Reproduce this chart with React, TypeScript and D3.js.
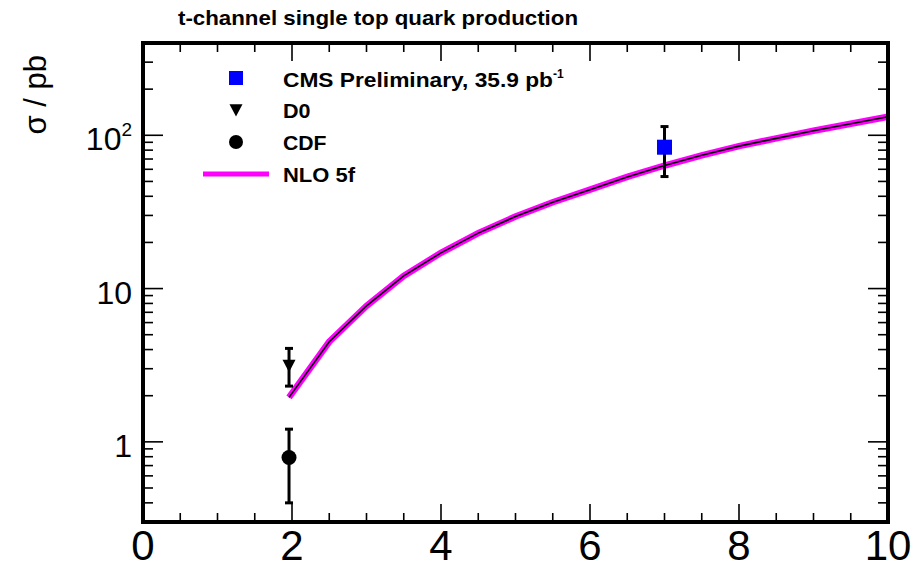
import React from 'react';
import * as d3 from 'd3';

// NLO 5f theory curve (sqrt(s) in TeV, sigma in pb)
const curveX = [1.96, 2.5, 3, 3.5, 4, 4.5, 5, 5.5, 6, 6.5, 7, 7.5, 8, 8.5, 9, 9.5, 10];
const curveY = [1.95, 4.5, 7.7, 12.1, 17.1, 23.0, 29.5, 36.6, 44.2, 53.5, 63.5, 74, 85, 95.5, 107, 119, 132];

// measurements
const pointNames = ['CMS', 'D0', 'CDF'];
const pointX = [7, 1.96, 1.96];
const pointY = [83.6, 3.14, 0.79];
const pointHi = [114, 4.07, 1.21];
const pointLo = [53.8, 2.31, 0.4];

const xTickValues = [0, 2, 4, 6, 8, 10];
const yTickValues = [1, 10, 100];

const legendLabels = ['CMS Preliminary, 35.9 pb', 'D0', 'CDF', 'NLO 5f'];
const legendWidths = [270, 27.5, 43.5, 72];

const W = 920, H = 565;
const L = 143, R = 888, T = 43, B = 522;
const FONT = 'Liberation Sans, Arial, Helvetica, sans-serif';

export default function App() {
  const x = d3.scaleLinear().domain([0, 10]).range([L, R]);
  const y = d3.scaleLog().domain([0.3, 400]).range([B, T]);

  const xMinor = d3.range(0, 10.001, 0.5);
  const yMinor: number[] = [];
  [0.1, 1, 10, 100].forEach((d) => {
    for (let k = 1; k <= 9; k++) {
      const v = d * k;
      if (v >= 0.3 && v <= 400) yMinor.push(v);
    }
  });

  const line = d3
    .line<number>()
    .x((_, i) => x(curveX[i]))
    .y((v) => y(v))
    .curve(d3.curveLinear);
  const path = line(curveY) || '';

  const tri = (cx: number, cy: number, s: number) =>
    `M${cx - s},${cy - s * 0.9}L${cx + s},${cy - s * 0.9}L${cx},${cy + s * 1.0}Z`;

  const legY = [78, 110, 142, 174];

  return (
    <svg width={W} height={H} style={{ position: 'absolute', left: 0, top: 0, background: '#fff' }} fontFamily={FONT}>
      <rect x={0} y={0} width={W} height={H} fill="#fff" />
      {/* title */}
      <text x={178} y={25} fontSize={21} fontWeight="bold" textLength={400} lengthAdjust="spacingAndGlyphs">
        t-channel single top quark production
      </text>
      {/* y axis title */}
      <text transform={`translate(46,55) rotate(-90)`} fontSize={31} textAnchor="end">
        σ / pb
      </text>

      {/* x ticks */}
      {xMinor.map((v) => {
        const major = Math.abs(v % 2) < 1e-6;
        const len = major ? 18 : 9;
        return (
          <g key={'xt' + v} stroke="#000" strokeWidth={1.6}>
            <line x1={x(v)} x2={x(v)} y1={B} y2={B - len} />
            <line x1={x(v)} x2={x(v)} y1={T} y2={T + len} />
          </g>
        );
      })}
      {/* y ticks */}
      {yMinor.map((v) => {
        const major = yTickValues.includes(v);
        const len = major ? 20 : 10;
        return (
          <g key={'yt' + v} stroke="#000" strokeWidth={1.6}>
            <line x1={L} x2={L + len} y1={y(v)} y2={y(v)} />
            <line x1={R} x2={R - len} y1={y(v)} y2={y(v)} />
          </g>
        );
      })}

      {/* x tick labels */}
      {xTickValues.map((v) => (
        <text key={'xl' + v} x={x(v)} y={560} fontSize={42} textAnchor="middle">
          {String(v)}
        </text>
      ))}
      {/* y tick labels */}
      {yTickValues.map((v) => (
        <text key={'yl' + v} x={132} y={y(v) + 15} fontSize={32} textAnchor="end">
          {v === 100 ? (
            <>
              10<tspan fontSize={19} dy={-14}>2</tspan>
            </>
          ) : (
            String(v)
          )}
        </text>
      ))}

      {/* theory curve */}
      <path d={path} fill="none" stroke="#ff00ff" strokeWidth={6.5} />
      <path d={path} fill="none" stroke="#000" strokeWidth={1.6} />

      {/* measurements: error bars */}
      {pointNames.map((n, i) => {
        const cx = x(pointX[i]);
        return (
          <g key={'eb' + n} stroke="#000" strokeWidth={3}>
            <line x1={cx} x2={cx} y1={y(pointHi[i])} y2={y(pointLo[i])} />
            <line x1={cx - 4} x2={cx + 4} y1={y(pointHi[i])} y2={y(pointHi[i])} />
            <line x1={cx - 4} x2={cx + 4} y1={y(pointLo[i])} y2={y(pointLo[i])} />
          </g>
        );
      })}
      {/* markers */}
      <rect x={x(pointX[0]) - 7.5} y={y(pointY[0]) - 7.5} width={15} height={15} fill="#0000ff" />
      <path d={tri(x(pointX[1]), y(pointY[1]), 6.5)} fill="#000" />
      <circle cx={x(pointX[2])} cy={y(pointY[2])} r={7.5} fill="#000" />

      {/* legend */}
      <rect x={229} y={legY[0] - 7} width={14} height={14} fill="#0000ff" />
      <path d={tri(236, legY[1], 6.5)} fill="#000" />
      <circle cx={236} cy={legY[2]} r={7} fill="#000" />
      <line x1={203} x2={269} y1={legY[3]} y2={legY[3]} stroke="#ff00ff" strokeWidth={5} />

      <text x={283} y={legY[0] + 8.5} fontSize={20} fontWeight="bold">
        <tspan textLength={legendWidths[0]} lengthAdjust="spacingAndGlyphs">{legendLabels[0]}</tspan>
        <tspan fontSize={12} dy={-9}>-1</tspan>
      </text>
      {[1, 2, 3].map((i) => (
        <text key={'lg' + i} x={283} y={legY[i] + 8} fontSize={20} fontWeight="bold"
          textLength={legendWidths[i]} lengthAdjust="spacingAndGlyphs">
          {legendLabels[i]}
        </text>
      ))}

      {/* frame */}
      <rect x={L} y={T} width={R - L} height={B - T} fill="none" stroke="#000" strokeWidth={4} />
    </svg>
  );
}
